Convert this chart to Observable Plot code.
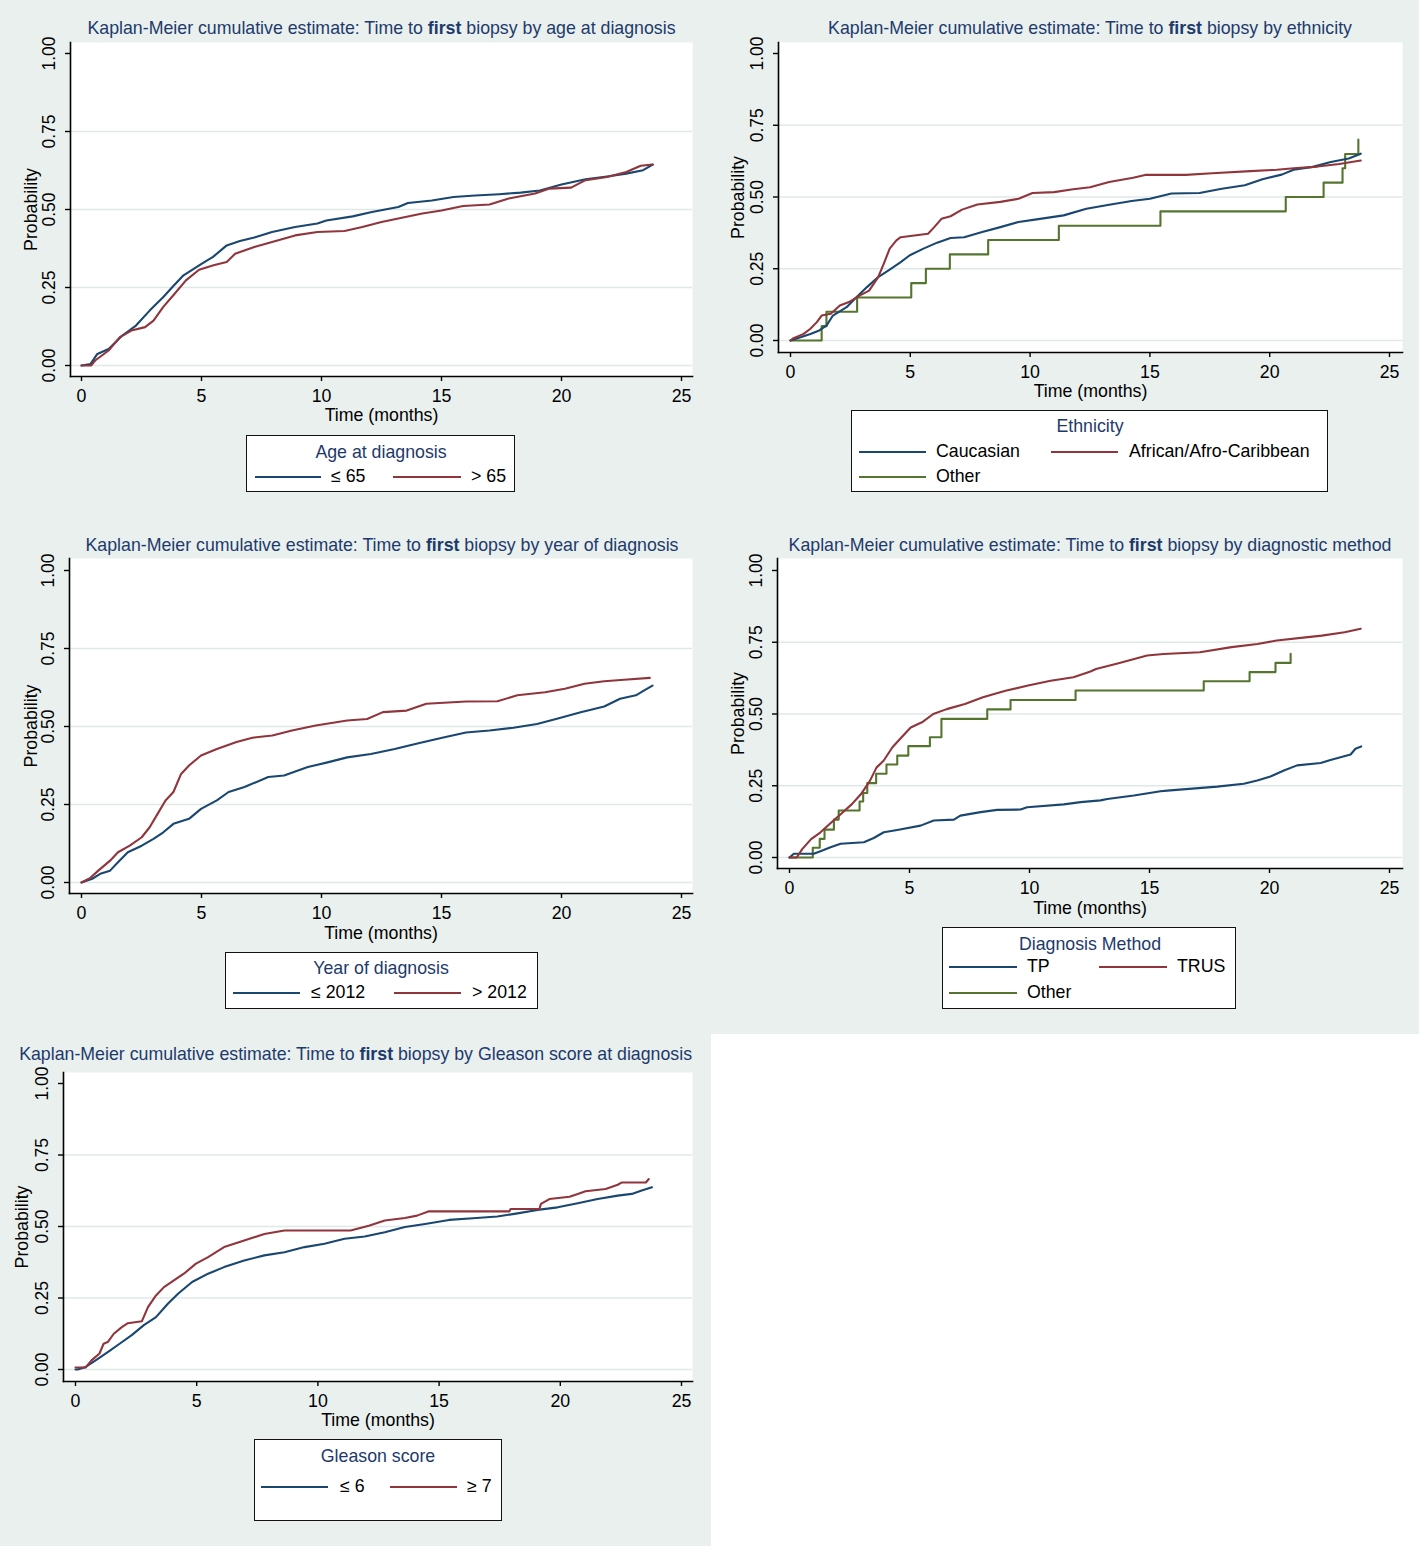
<!DOCTYPE html>
<html>
<head>
<meta charset="utf-8">
<script src="https://cdn.jsdelivr.net/npm/d3@7"></script>
<script src="https://cdn.jsdelivr.net/npm/@observablehq/plot@0.6"></script>
<style>
  html, body { margin: 0; padding: 0; background: #ffffff; }
  #root { position: relative; width: 1419px; height: 1546px; background: #e9f0ee;
          font-family: "Liberation Sans", Arial, sans-serif; overflow: hidden; }
  .blank { position: absolute; left: 711px; top: 1034px; right: 0; bottom: 0; background: #ffffff; }
  .txt { position: absolute; white-space: nowrap; line-height: 1; }
  .box { position: absolute; box-sizing: border-box; border: 1.6px solid #111; background: #ffffff; }
  .key { position: absolute; height: 2px; }
</style>
</head>
<body>
<div id="root"><div class="blank"></div></div>
<script>
// ---------------- data ----------------
const xTicks = [0, 5, 10, 15, 20, 25];
const yTicks = [0, 0.25, 0.5, 0.75, 1];
const gridTicks = [0, 0.25, 0.5, 0.75];
const xLabel = "Time (months)";
const yLabel = "Probability";

const panelTitles = [
  "by age at diagnosis",
  "by ethnicity",
  "by year of diagnosis",
  "by diagnostic method",
  "by Gleason score at diagnosis"
];

// Panel 1: age at diagnosis
const ageLabels = ["≤ 65", "> 65"];
const ageLeT = [0, 0.38, 0.66, 1.13, 1.7, 2.27, 2.84, 3.4, 3.78, 4.25, 5.0, 5.48, 6.05, 6.6, 7.2, 7.94, 8.9, 9.83, 10.2, 11.3, 12.1, 13.2, 13.6, 14.6, 15.5, 16.4, 17.4, 18.3, 19.1, 20.0, 21.0, 21.9, 22.7, 23.4, 23.8];
const ageLeP = [0, 0.005, 0.037, 0.053, 0.096, 0.128, 0.176, 0.219, 0.251, 0.289, 0.326, 0.348, 0.385, 0.399, 0.41, 0.428, 0.444, 0.455, 0.465, 0.478, 0.492, 0.508, 0.521, 0.529, 0.54, 0.545, 0.549, 0.554, 0.561, 0.58, 0.597, 0.606, 0.615, 0.626, 0.644];
const ageGtT = [0, 0.4, 0.57, 1.13, 1.6, 2.08, 2.65, 3.0, 3.4, 3.88, 4.35, 4.9, 5.5, 6.05, 6.4, 7.2, 7.94, 8.9, 9.83, 10.96, 11.7, 12.5, 13.2, 14.2, 15.0, 15.9, 17.0, 17.8, 18.9, 19.5, 20.4, 21.0, 21.9, 22.7, 23.3, 23.8];
const ageGtP = [0, 0, 0.016, 0.048, 0.091, 0.112, 0.123, 0.144, 0.187, 0.23, 0.273, 0.307, 0.321, 0.332, 0.358, 0.38, 0.396, 0.417, 0.428, 0.431, 0.444, 0.46, 0.471, 0.487, 0.497, 0.511, 0.516, 0.535, 0.551, 0.567, 0.57, 0.594, 0.604, 0.62, 0.64, 0.644];

// Panel 2: ethnicity
const ethLabels = ["Caucasian", "African/Afro-Caribbean", "Other"];
const ethCauT = [0, 0.45, 0.83, 1.2, 1.5, 1.77, 2.34, 2.72, 3.19, 3.66, 4.14, 4.6, 4.98, 5.55, 6.12, 6.68, 7.25, 8.0, 8.76, 9.52, 10.27, 11.4, 12.35, 13.3, 14.24, 15.0, 15.9, 17.07, 18.0, 18.96, 19.7, 20.5, 21.0, 21.8, 22.55, 23.3, 23.8];
const ethCauP = [0, 0.012, 0.023, 0.035, 0.052, 0.087, 0.116, 0.148, 0.186, 0.221, 0.247, 0.273, 0.297, 0.32, 0.341, 0.357, 0.36, 0.378, 0.395, 0.413, 0.422, 0.436, 0.459, 0.473, 0.486, 0.494, 0.512, 0.514, 0.529, 0.541, 0.562, 0.578, 0.595, 0.605, 0.622, 0.634, 0.651];
const ethAfrT = [0, 0.1, 0.55, 0.83, 1.1, 1.3, 1.68, 2.06, 2.44, 2.9, 3.28, 3.66, 3.89, 4.14, 4.42, 4.6, 5.17, 5.74, 6.0, 6.3, 6.68, 7.16, 7.8, 8.76, 9.52, 10.1, 11.0, 11.8, 12.5, 13.3, 14.3, 14.8, 16.5, 17.6, 19.2, 20.3, 21.0, 22.0, 22.9, 23.8];
const ethAfrP = [0, 0.007, 0.023, 0.041, 0.064, 0.087, 0.093, 0.122, 0.134, 0.157, 0.174, 0.221, 0.267, 0.32, 0.349, 0.36, 0.366, 0.372, 0.395, 0.424, 0.433, 0.456, 0.474, 0.483, 0.494, 0.514, 0.517, 0.527, 0.534, 0.552, 0.567, 0.577, 0.577, 0.583, 0.59, 0.595, 0.6, 0.606, 0.615, 0.627];
const ethOthT = [0, 1.3, 1.5, 2.78, 5.04, 5.65, 6.65, 8.25, 11.2, 15.44, 20.67, 22.25, 23.04, 23.15, 23.7];
const ethOthP = [0, 0.05, 0.10, 0.15, 0.20, 0.25, 0.30, 0.35, 0.40, 0.45, 0.50, 0.55, 0.60, 0.65, 0.70];

// Panel 3: year of diagnosis
const yearLabels = ["≤ 2012", "> 2012"];
const yrLeT = [0, 0.45, 0.78, 1.19, 1.52, 1.93, 2.51, 3.0, 3.41, 3.83, 4.48, 4.98, 5.64, 6.13, 6.79, 7.78, 8.44, 9.43, 10.25, 11.07, 12.06, 13.05, 14.04, 15.03, 16.02, 17.0, 18.0, 18.98, 19.81, 20.8, 21.78, 22.44, 23.1, 23.43, 23.79];
const yrLeP = [0, 0.012, 0.028, 0.038, 0.065, 0.097, 0.118, 0.14, 0.161, 0.188, 0.204, 0.236, 0.263, 0.29, 0.306, 0.338, 0.343, 0.37, 0.385, 0.401, 0.412, 0.428, 0.446, 0.464, 0.481, 0.487, 0.496, 0.508, 0.525, 0.546, 0.564, 0.589, 0.6, 0.615, 0.631];
const yrGtT = [0, 0.37, 0.7, 1.19, 1.52, 2.01, 2.51, 2.84, 3.17, 3.5, 3.83, 4.15, 4.48, 4.98, 5.64, 6.46, 7.12, 7.95, 8.77, 9.76, 11.07, 11.9, 12.56, 13.55, 14.37, 16.02, 17.33, 18.16, 19.31, 20.14, 20.96, 21.78, 22.61, 23.68];
const yrGtP = [0, 0.015, 0.038, 0.07, 0.097, 0.118, 0.145, 0.177, 0.22, 0.263, 0.29, 0.348, 0.375, 0.407, 0.428, 0.45, 0.464, 0.471, 0.487, 0.503, 0.519, 0.524, 0.546, 0.551, 0.573, 0.58, 0.581, 0.6, 0.61, 0.621, 0.637, 0.645, 0.65, 0.656];

// Panel 4: diagnostic method
const methodLabels = ["TP", "TRUS", "Other"];
const mTpT = [0, 0.18, 1.01, 1.29, 1.71, 2.13, 3.1, 3.51, 3.93, 4.49, 5.46, 6.01, 6.85, 7.12, 7.96, 8.65, 9.63, 9.9, 11.43, 12.13, 12.96, 13.24, 14.35, 15.46, 15.74, 17.82, 18.93, 19.49, 20.04, 20.6, 21.15, 22.13, 22.54, 23.38, 23.58, 23.82];
const mTpP = [0, 0.013, 0.013, 0.022, 0.036, 0.048, 0.053, 0.068, 0.088, 0.096, 0.111, 0.129, 0.132, 0.146, 0.158, 0.166, 0.167, 0.175, 0.185, 0.193, 0.199, 0.204, 0.216, 0.231, 0.233, 0.247, 0.257, 0.268, 0.282, 0.303, 0.321, 0.329, 0.34, 0.359, 0.379, 0.387];
const mTrusT = [0, 0.3, 0.53, 0.9, 1.28, 1.66, 2.13, 2.6, 2.98, 3.35, 3.63, 3.92, 4.29, 4.67, 5.05, 5.52, 5.99, 6.55, 7.31, 8.06, 9.0, 9.94, 10.88, 11.83, 12.54, 12.77, 13.71, 14.9, 15.59, 17.1, 18.42, 19.5, 20.3, 21.6, 22.18, 23.13, 23.8];
const mTrusP = [0, 0, 0.029, 0.064, 0.087, 0.116, 0.151, 0.186, 0.221, 0.267, 0.314, 0.337, 0.384, 0.419, 0.453, 0.471, 0.5, 0.517, 0.535, 0.558, 0.581, 0.599, 0.616, 0.628, 0.648, 0.657, 0.677, 0.704, 0.709, 0.715, 0.733, 0.744, 0.756, 0.768, 0.773, 0.785, 0.797];
const mOthT = [0, 0.97, 1.26, 1.46, 1.85, 2.05, 2.92, 3.07, 3.24, 3.61, 4.04, 4.49, 4.95, 5.85, 6.33, 8.24, 9.21, 11.92, 17.26, 19.17, 20.25, 20.88];
const mOthP = [0, 0.034, 0.065, 0.097, 0.132, 0.164, 0.195, 0.225, 0.259, 0.292, 0.324, 0.355, 0.388, 0.419, 0.483, 0.516, 0.549, 0.582, 0.614, 0.646, 0.678, 0.71];

// Panel 5: Gleason score
const gleasonLabels = ["≤ 6", "≥ 7"];
const gLeT = [0, 0.09, 0.42, 0.83, 1.33, 1.82, 2.32, 2.82, 3.32, 3.81, 4.23, 4.81, 5.47, 6.13, 6.96, 7.79, 8.62, 9.45, 10.27, 11.1, 11.93, 12.76, 13.59, 14.42, 15.41, 16.4, 17.4, 18.23, 19.06, 19.89, 20.72, 21.54, 22.37, 22.95, 23.36, 23.78];
const gLeP = [0, 0, 0.009, 0.032, 0.061, 0.09, 0.12, 0.155, 0.183, 0.23, 0.265, 0.306, 0.335, 0.358, 0.381, 0.399, 0.41, 0.428, 0.44, 0.457, 0.465, 0.48, 0.498, 0.509, 0.523, 0.529, 0.535, 0.546, 0.558, 0.567, 0.581, 0.596, 0.608, 0.614, 0.626, 0.637];
const gGeT = [0, 0.42, 0.66, 0.99, 1.16, 1.33, 1.58, 1.91, 2.16, 2.74, 2.99, 3.32, 3.65, 4.15, 4.47, 4.97, 5.47, 6.13, 6.96, 7.79, 8.62, 11.35, 12.1, 12.76, 13.59, 14.09, 14.58, 17.9, 17.95, 19.14, 19.2, 19.55, 20.38, 20.72, 21.04, 21.87, 22.37, 22.54, 23.53, 23.65];
const gGeP = [0.007, 0.007, 0.032, 0.056, 0.09, 0.096, 0.125, 0.148, 0.162, 0.169, 0.218, 0.259, 0.288, 0.317, 0.335, 0.37, 0.393, 0.428, 0.451, 0.474, 0.486, 0.486, 0.503, 0.521, 0.53, 0.538, 0.553, 0.553, 0.561, 0.561, 0.579, 0.596, 0.604, 0.614, 0.623, 0.631, 0.646, 0.654, 0.654, 0.666];

// ---------------- styling ----------------
const NAVY = "#1a476f", MAROON = "#90353b", GREEN = "#55752f";
const GRID = "#dfe9e7", TITLE = "#1e3a6c";
const FS = 17.75;
const root = document.getElementById("root");

function pts(t, p) { return t.map((v, i) => ({t: v, p: p[i]})); }

function makePanel(cfg) {
  const marks = [
    Plot.frame({fill: "white", stroke: null}),
    Plot.gridY(gridTicks, {stroke: GRID, strokeOpacity: 1, strokeWidth: 1.6}),
  ];
  for (const s of cfg.series) {
    marks.push(Plot.line(pts(s.t, s.p), {x: "t", y: "p", stroke: s.color, strokeWidth: 2.1,
      curve: s.step ? "step-after" : "linear", strokeLinejoin: "round"}));
  }
  marks.push(
    Plot.frame({anchor: "left", stroke: "#000", strokeWidth: 1.6}),
    Plot.frame({anchor: "bottom", stroke: "#000", strokeWidth: 1.6}),
    Plot.axisX({ticks: xTicks, tickSize: 5, tickPadding: 8, tickFormat: d3.format("d"),
      label: null, stroke: "#000", strokeWidth: 1.4, fill: "#000"}),
    Plot.axisY({ticks: yTicks, tickSize: 5, tickFormat: () => "", label: null, stroke: "#000", strokeWidth: 1.4}),
    Plot.text(yTicks, {y: d => d, text: d => d3.format(".2f")(d), frameAnchor: "left",
      rotate: -90, dx: -21, fontSize: 17.5, fill: "#000", textAnchor: "middle", lineAnchor: "middle"}),
    Plot.text([yLabel], {text: d => d, frameAnchor: "left", rotate: -90, dx: cfg.probDx,
      fill: "#000", textAnchor: "middle", lineAnchor: "middle"}),
    Plot.text([xLabel], {text: d => d, frameAnchor: "bottom", dy: cfg.timeDy,
      fill: "#000", textAnchor: "middle", lineAnchor: "middle"})
  );
  const svg = Plot.plot({
    width: cfg.width, height: cfg.height,
    marginLeft: cfg.mL, marginRight: cfg.mR, marginTop: cfg.mT, marginBottom: cfg.mB,
    x: {domain: [0, 25], range: cfg.xr},
    y: {domain: [0, 1], range: cfg.yr},
    style: {fontFamily: '"Liberation Sans", Arial, sans-serif', fontSize: FS + "px", background: "transparent", color: "#000"},
    marks
  });
  svg.style.position = "absolute";
  svg.style.left = cfg.left + "px";
  svg.style.top = cfg.top + "px";
  root.appendChild(svg);
}

function addText(x, baseline, str, {anchor = "start", color = "#000", size = FS, html = null} = {}) {
  const d = document.createElement("div");
  d.className = "txt";
  d.style.fontSize = size + "px";
  d.style.color = color;
  d.style.left = x + "px";
  d.style.top = (baseline - 0.8465 * size) + "px";
  if (anchor === "middle") d.style.transform = "translateX(-50%)";
  if (html !== null) d.innerHTML = html; else d.textContent = str;
  root.appendChild(d);
}
function addBox(x1, y1, x2, y2) {
  const d = document.createElement("div");
  d.className = "box";
  Object.assign(d.style, {left: x1 + "px", top: y1 + "px", width: (x2 - x1) + "px", height: (y2 - y1) + "px"});
  root.appendChild(d);
}
function addKey(x1, x2, y, color) {
  const d = document.createElement("div");
  d.className = "key";
  Object.assign(d.style, {left: x1 + "px", top: (y - 1) + "px", width: (x2 - x1) + "px", background: color});
  root.appendChild(d);
}
function addTitle(cx, baseline, suffix) {
  addText(cx, baseline, null, {anchor: "middle", color: TITLE,
    html: 'Kaplan-Meier cumulative estimate: Time to <b>first</b> biopsy ' + suffix});
}

// ---------------- panels ----------------
makePanel({left: 0, top: 0, width: 710, height: 430, mL: 70, mR: 18, mT: 42, mB: 54,
  xr: [81, 681], yr: [365, 53], probDx: -39.5, timeDy: 39,
  series: [{t: ageLeT, p: ageLeP, color: NAVY}, {t: ageGtT, p: ageGtP, color: MAROON}]});
makePanel({left: 710, top: 0, width: 709, height: 405, mL: 68, mR: 17, mT: 42, mB: 53,
  xr: [80, 679], yr: [340, 53], probDx: -40.5, timeDy: 38.7,
  series: [{t: ethOthT, p: ethOthP, color: GREEN, step: true},
           {t: ethCauT, p: ethCauP, color: NAVY}, {t: ethAfrT, p: ethAfrP, color: MAROON}]});
makePanel({left: 0, top: 520, width: 710, height: 430, mL: 69, mR: 18, mT: 38, mB: 57,
  xr: [81, 681], yr: [362, 50], probDx: -38.5, timeDy: 39.5,
  series: [{t: yrLeT, p: yrLeP, color: NAVY}, {t: yrGtT, p: yrGtP, color: MAROON}]});
makePanel({left: 710, top: 520, width: 709, height: 410, mL: 67, mR: 17, mT: 38, mB: 62,
  xr: [79, 679], yr: [337, 50], probDx: -39.5, timeDy: 39.5,
  series: [{t: mOthT, p: mOthP, color: GREEN, step: true},
           {t: mTpT, p: mTpP, color: NAVY}, {t: mTrusT, p: mTrusP, color: MAROON}]});
makePanel({left: 0, top: 1034, width: 710, height: 400, mL: 63, mR: 18, mT: 38, mB: 53,
  xr: [75, 681], yr: [335, 49], probDx: -41.5, timeDy: 38.5,
  series: [{t: gLeT, p: gLeP, color: NAVY}, {t: gGeT, p: gGeP, color: MAROON}]});

// ---------------- titles ----------------
addTitle(381.5, 35, panelTitles[0]);
addTitle(1090, 35, panelTitles[1]);
addTitle(382, 551.7, panelTitles[2]);
addTitle(1090, 551.7, panelTitles[3]);
addTitle(355.6, 1060.7, panelTitles[4]);

// ---------------- legends ----------------
// Panel 1
addBox(246, 435, 515, 492);
addText(381, 459, "Age at diagnosis", {anchor: "middle", color: TITLE});
addKey(255, 321, 477, NAVY); addText(331, 482.7, ageLabels[0]);
addKey(393, 461, 477, MAROON); addText(471, 482.7, ageLabels[1]);
// Panel 2
addBox(851, 410, 1328, 492);
addText(1090, 433.3, "Ethnicity", {anchor: "middle", color: TITLE});
addKey(859, 926, 452, NAVY); addText(936, 458.3, ethLabels[0]);
addKey(1051, 1118, 452, MAROON); addText(1129, 458.3, ethLabels[1]);
addKey(859, 926, 477, GREEN); addText(936, 483.3, ethLabels[2]);
// Panel 3
addBox(225, 952, 538, 1009);
addText(381, 975, "Year of diagnosis", {anchor: "middle", color: TITLE});
addKey(233, 300, 993, NAVY); addText(311, 999.3, yearLabels[0]);
addKey(394, 461, 993, MAROON); addText(472, 999.3, yearLabels[1]);
// Panel 4
addBox(942, 927, 1236, 1009);
addText(1090, 950.7, "Diagnosis Method", {anchor: "middle", color: TITLE});
addKey(949, 1017, 967, NAVY); addText(1027, 973.5, methodLabels[0]);
addKey(1099, 1167, 967, MAROON); addText(1177, 973.5, methodLabels[1]);
addKey(949, 1017, 993, GREEN); addText(1027, 999.5, methodLabels[2]);
// Panel 5
addBox(254, 1439, 502, 1521);
addText(378, 1462.7, "Gleason score", {anchor: "middle", color: TITLE});
addKey(261, 328, 1487, NAVY); addText(340, 1493, gleasonLabels[0]);
addKey(390, 457, 1487, MAROON); addText(467, 1493, gleasonLabels[1]);
</script>
</body>
</html>
